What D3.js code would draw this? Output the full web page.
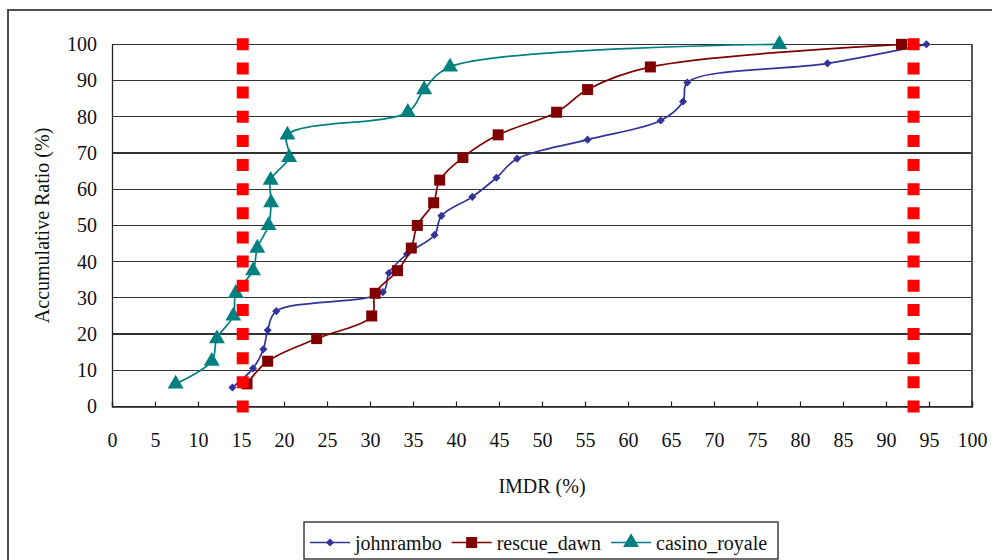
<!DOCTYPE html>
<html>
<head>
<meta charset="utf-8">
<script src="https://cdn.jsdelivr.net/npm/d3@7"></script>
<style>
  html, body { margin: 0; padding: 0; background: #fff; }
  svg { display: block; font-family: "Liberation Serif", "DejaVu Serif", serif; }
</style>
</head>
<body>
<svg id="chart" width="992" height="560"></svg>
<script>
// IMDR (%) vs accumulative ratio (%) for three titles
const xTickValues = [0, 5, 10, 15, 20, 25, 30, 35, 40, 45, 50, 55, 60, 65, 70, 75, 80, 85, 90, 95, 100];
const yTickValues = [0, 10, 20, 30, 40, 50, 60, 70, 80, 90, 100];

const johnramboX = [14.0, 16.4, 17.6, 18.1, 19.1, 31.5, 32.2, 34.3, 37.5, 38.3, 41.9, 44.7, 47.1, 55.3, 63.8, 66.4, 66.9, 83.2, 94.7];
const johnramboY = [5.26, 10.53, 15.79, 21.05, 26.32, 31.58, 36.84, 42.11, 47.37, 52.63, 57.89, 63.16, 68.42, 73.68, 78.95, 84.21, 89.47, 94.74, 100];

const rescueDawnX = [15.7, 18.1, 23.8, 30.2, 30.6, 33.2, 34.8, 35.5, 37.4, 38.1, 40.8, 44.9, 51.7, 55.3, 62.6, 91.8];
const rescueDawnY = [6.25, 12.5, 18.75, 25, 31.25, 37.5, 43.75, 50, 56.25, 62.5, 68.75, 75, 81.25, 87.5, 93.75, 100];

const casinoRoyaleX = [7.4, 11.6, 12.2, 14.1, 14.4, 16.4, 16.9, 18.2, 18.5, 18.45, 20.6, 20.4, 34.4, 36.3, 39.3, 77.6];
const casinoRoyaleY = [6.25, 12.5, 18.75, 25, 31.25, 37.5, 43.75, 50, 56.25, 62.5, 68.75, 75, 81.25, 87.5, 93.75, 100];

// vertical threshold lines (IMDR %)
const thresholdX = [15.2, 93.2];

const seriesNames = ["johnrambo", "rescue_dawn", "casino_royale"];
const seriesColors = ["#333399", "#800000", "#008080"];
const seriesSymbols = [d3.symbolDiamond2, d3.symbolSquare, d3.symbolTriangle];
const seriesSymbolSizes = [42, 121, 110];

const series = [
  { name: seriesNames[0], xs: johnramboX, ys: johnramboY },
  { name: seriesNames[1], xs: rescueDawnX, ys: rescueDawnY },
  { name: seriesNames[2], xs: casinoRoyaleX, ys: casinoRoyaleY }
].map((s, i) => ({
  name: s.name,
  color: seriesColors[i],
  symbol: seriesSymbols[i],
  size: seriesSymbolSizes[i],
  points: s.xs.map((x, j) => ({ x, y: s.ys[j] }))
}));

const FONT = "Liberation Serif, DejaVu Serif, serif";
const svg = d3.select("#chart");
const plot = { left: 112, right: 972, top: 44.3, bottom: 406.5 };

const x = d3.scaleLinear().domain([0, 100]).range([plot.left, plot.right]);
const y = d3.scaleLinear().domain([0, 100]).range([plot.bottom, plot.top]);

// outer chart frame
svg.append("rect")
  .attr("x", 8).attr("y", 10)
  .attr("width", 1100).attr("height", 700)
  .attr("fill", "#fff")
  .attr("stroke", "#4d4d4d")
  .attr("stroke-width", 2);

// horizontal gridlines
svg.append("g")
  .selectAll("line")
  .data(yTickValues)
  .join("line")
  .attr("x1", plot.left).attr("x2", plot.right)
  .attr("y1", d => y(d)).attr("y2", d => y(d))
  .attr("stroke", "#333")
  .attr("stroke-width", 1.3)
  .attr("shape-rendering", "crispEdges");

// right edge of the plot area
svg.append("line")
  .attr("x1", plot.right).attr("x2", plot.right)
  .attr("y1", plot.top).attr("y2", plot.bottom)
  .attr("stroke", "#555").attr("stroke-width", 1.3)
  .attr("shape-rendering", "crispEdges");

// y axis
const yAxis = d3.axisLeft(y).tickValues(yTickValues).tickSize(0).tickPadding(15);
const yG = svg.append("g").attr("transform", `translate(${plot.left},0)`).call(yAxis)
  .attr("font-family", FONT).attr("font-size", 20);
yG.select(".domain").attr("stroke", "#222").attr("stroke-width", 1.3);
yG.selectAll("text").attr("fill", "#111");

// x axis with inward ticks
const xAxis = d3.axisBottom(x).tickValues(xTickValues).tickSize(-5).tickPadding(26);
const xG = svg.append("g").attr("transform", `translate(0,${plot.bottom})`).call(xAxis)
  .attr("font-family", FONT).attr("font-size", 20);
xG.select(".domain").attr("stroke", "#222").attr("stroke-width", 1.3);
xG.selectAll(".tick line").attr("stroke", "#222").attr("stroke-width", 1.2);
xG.selectAll("text").attr("fill", "#111");

// axis titles
svg.append("text")
  .attr("x", (plot.left + plot.right) / 2)
  .attr("y", 493)
  .attr("text-anchor", "middle")
  .attr("font-family", FONT)
  .attr("font-size", 20)
  .attr("fill", "#111")
  .text("IMDR (%)");

svg.append("text")
  .attr("transform", `translate(49,${(plot.top + plot.bottom) / 2}) rotate(-90)`)
  .attr("text-anchor", "middle")
  .attr("font-family", FONT)
  .attr("font-size", 20)
  .attr("fill", "#111")
  .text("Accumulative Ratio (%)");

// series lines (smoothed) and markers
const line = d3.line()
  .x(d => x(d.x))
  .y(d => y(d.y))
  .curve(d3.curveCatmullRom.alpha(0.5));

const sg = svg.append("g")
  .selectAll("g")
  .data(series)
  .join("g");

sg.append("path")
  .attr("d", d => line(d.points))
  .attr("fill", "none")
  .attr("stroke", d => d.color)
  .attr("stroke-width", 1.7);

sg.each(function (s) {
  d3.select(this).selectAll("path.mark")
    .data(s.points)
    .join("path")
    .attr("class", "mark")
    .attr("transform", d => `translate(${x(d.x)},${y(d.y)})`)
    .attr("d", d3.symbol(s.symbol, s.size)())
    .attr("fill", s.color);
});

// threshold lines drawn as square dots, one square at each end
const dotSize = 12;
const dotCount = 16;
svg.append("g")
  .selectAll("line")
  .data(thresholdX)
  .join("line")
  .attr("x1", d => x(d)).attr("x2", d => x(d))
  .attr("y1", y(0) + dotSize / 2)
  .attr("y2", y(100) - dotSize / 2)
  .attr("stroke", "#ff0000")
  .attr("stroke-width", dotSize)
  .attr("stroke-dasharray", () => {
    const len = (y(0) - y(100)) + dotSize;
    const gap = (len - dotCount * dotSize) / (dotCount - 1);
    return `${dotSize} ${gap}`;
  });

// legend
const legend = svg.append("g").attr("font-family", FONT);
legend.append("rect")
  .attr("x", 304).attr("y", 522)
  .attr("width", 474).attr("height", 37)
  .attr("fill", "#fff")
  .attr("stroke", "#222")
  .attr("stroke-width", 1.3);

let lx = 310;
const ly = 542.5;
series.forEach(s => {
  const g = legend.append("g");
  g.append("line")
    .attr("x1", lx).attr("x2", lx + 40)
    .attr("y1", ly).attr("y2", ly)
    .attr("stroke", s.color).attr("stroke-width", 1.7);
  g.append("path")
    .attr("transform", `translate(${lx + 20},${ly})`)
    .attr("d", d3.symbol(s.symbol, s.size)())
    .attr("fill", s.color);
  const t = g.append("text")
    .attr("x", lx + 45)
    .attr("y", ly)
    .attr("dy", "0.35em")
    .attr("font-size", 20)
    .attr("fill", "#111")
    .text(s.name);
  lx += 45 + t.node().getComputedTextLength() + 10;
});
</script>
</body>
</html>
